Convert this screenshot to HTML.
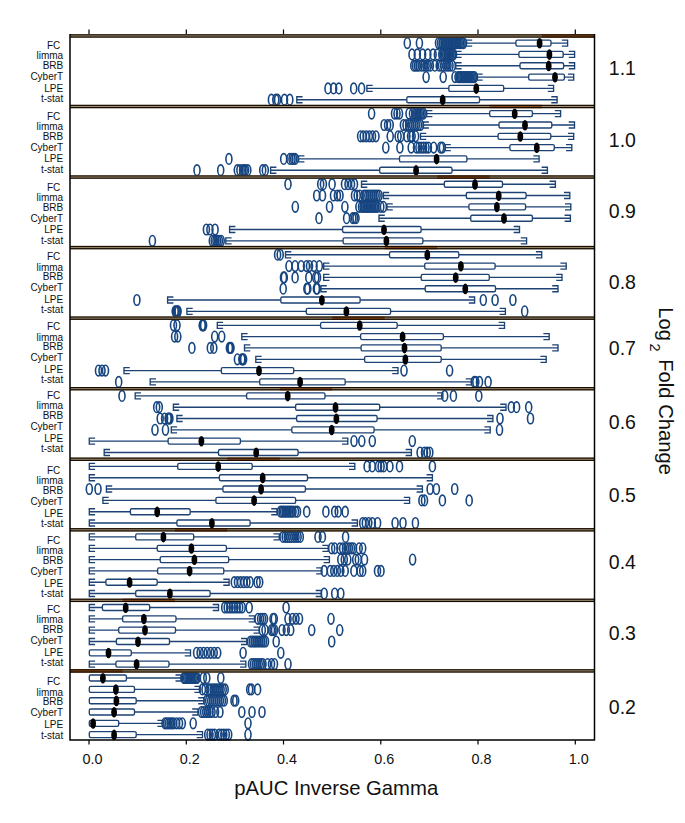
<!DOCTYPE html>
<html><head><meta charset="utf-8"><style>
html,body{margin:0;padding:0;background:#fff;}
svg{display:block;font-family:"Liberation Sans",sans-serif;}
text{fill:#111;}
</style></head><body>
<svg width="685" height="823" viewBox="0 0 685 823">
<rect x="0" y="0" width="685" height="823" fill="#fff"/>
<g stroke="#1d4274" stroke-width="1.35" fill="none"><path d="M466.4 43.1H515.9M551.0 43.1H567.6" /><path d="M472.2 40.1H466.4V46.1H472.2M561.8 40.1H567.6V46.1H561.8" fill="none"/><rect x="515.9" y="40.1" width="35.1" height="6.0" rx="1.5" fill="#fff"/></g>
<g stroke="#164580" stroke-width="1.6" fill="none"><ellipse cx="407.3" cy="43.1" rx="3.0" ry="5.3"/><ellipse cx="419.4" cy="43.1" rx="3.0" ry="5.3"/><ellipse cx="438.5" cy="43.1" rx="3.0" ry="5.3"/><ellipse cx="440.5" cy="43.1" rx="3.0" ry="5.3"/><ellipse cx="442.2" cy="43.1" rx="3.0" ry="5.3"/><ellipse cx="444.0" cy="43.1" rx="3.0" ry="5.3"/><ellipse cx="445.4" cy="43.1" rx="3.0" ry="5.3"/><ellipse cx="446.8" cy="43.1" rx="3.0" ry="5.3"/><ellipse cx="448.2" cy="43.1" rx="3.0" ry="5.3"/><ellipse cx="449.6" cy="43.1" rx="3.0" ry="5.3"/><ellipse cx="451.0" cy="43.1" rx="3.0" ry="5.3"/><ellipse cx="452.4" cy="43.1" rx="3.0" ry="5.3"/><ellipse cx="453.8" cy="43.1" rx="3.0" ry="5.3"/><ellipse cx="455.1" cy="43.1" rx="3.0" ry="5.3"/><ellipse cx="456.5" cy="43.1" rx="3.0" ry="5.3"/><ellipse cx="457.9" cy="43.1" rx="3.0" ry="5.3"/><ellipse cx="459.3" cy="43.1" rx="3.0" ry="5.3"/><ellipse cx="460.7" cy="43.1" rx="3.0" ry="5.3"/><ellipse cx="462.1" cy="43.1" rx="3.0" ry="5.3"/><ellipse cx="463.5" cy="43.1" rx="3.0" ry="5.3"/></g>
<ellipse cx="539.6" cy="43.3" rx="2.9" ry="5.3" fill="#000"/>
<g stroke="#1d4274" stroke-width="1.35" fill="none"><path d="M455.8 54.4H518.9M563.2 54.4H574.6" /><path d="M461.6 51.4H455.8V57.4H461.6M568.8 51.4H574.6V57.4H568.8" fill="none"/><rect x="518.9" y="51.4" width="44.3" height="6.0" rx="1.5" fill="#fff"/></g>
<g stroke="#164580" stroke-width="1.6" fill="none"><ellipse cx="412.0" cy="54.4" rx="3.0" ry="5.3"/><ellipse cx="417.3" cy="54.4" rx="3.0" ry="5.3"/><ellipse cx="422.6" cy="54.4" rx="3.0" ry="5.3"/><ellipse cx="427.8" cy="54.4" rx="3.0" ry="5.3"/><ellipse cx="433.1" cy="54.4" rx="3.0" ry="5.3"/><ellipse cx="437.4" cy="54.4" rx="3.0" ry="5.3"/><ellipse cx="441.8" cy="54.4" rx="3.0" ry="5.3"/><ellipse cx="443.1" cy="54.4" rx="3.0" ry="5.3"/><ellipse cx="444.4" cy="54.4" rx="3.0" ry="5.3"/><ellipse cx="445.7" cy="54.4" rx="3.0" ry="5.3"/><ellipse cx="447.0" cy="54.4" rx="3.0" ry="5.3"/><ellipse cx="448.3" cy="54.4" rx="3.0" ry="5.3"/><ellipse cx="449.6" cy="54.4" rx="3.0" ry="5.3"/><ellipse cx="450.9" cy="54.4" rx="3.0" ry="5.3"/><ellipse cx="452.2" cy="54.4" rx="3.0" ry="5.3"/><ellipse cx="453.5" cy="54.4" rx="3.0" ry="5.3"/></g>
<ellipse cx="549.4" cy="54.6" rx="2.9" ry="5.3" fill="#000"/>
<g stroke="#1d4274" stroke-width="1.35" fill="none"><path d="M455.8 65.7H520.0M563.6 65.7H574.6" /><path d="M461.6 62.7H455.8V68.7H461.6M568.8 62.7H574.6V68.7H568.8" fill="none"/><rect x="520.0" y="62.7" width="43.6" height="6.0" rx="1.5" fill="#fff"/></g>
<g stroke="#164580" stroke-width="1.6" fill="none"><ellipse cx="413.8" cy="65.7" rx="3.0" ry="5.3"/><ellipse cx="415.5" cy="65.7" rx="3.0" ry="5.3"/><ellipse cx="417.3" cy="65.7" rx="3.0" ry="5.3"/><ellipse cx="419.0" cy="65.7" rx="3.0" ry="5.3"/><ellipse cx="421.7" cy="65.7" rx="3.0" ry="5.3"/><ellipse cx="424.0" cy="65.7" rx="3.0" ry="5.3"/><ellipse cx="426.1" cy="65.7" rx="3.0" ry="5.3"/><ellipse cx="428.0" cy="65.7" rx="3.0" ry="5.3"/><ellipse cx="430.4" cy="65.7" rx="3.0" ry="5.3"/><ellipse cx="434.8" cy="65.7" rx="3.0" ry="5.3"/><ellipse cx="439.2" cy="65.7" rx="3.0" ry="5.3"/><ellipse cx="441.5" cy="65.7" rx="3.0" ry="5.3"/><ellipse cx="443.6" cy="65.7" rx="3.0" ry="5.3"/><ellipse cx="446.0" cy="65.7" rx="3.0" ry="5.3"/><ellipse cx="448.0" cy="65.7" rx="3.0" ry="5.3"/><ellipse cx="450.0" cy="65.7" rx="3.0" ry="5.3"/><ellipse cx="452.3" cy="65.7" rx="3.0" ry="5.3"/></g>
<ellipse cx="548.7" cy="65.9" rx="2.9" ry="5.3" fill="#000"/>
<g stroke="#1d4274" stroke-width="1.35" fill="none"><path d="M476.9 77.1H528.7M564.4 77.1H573.7" /><path d="M482.7 74.1H476.9V80.1H482.7M567.9 74.1H573.7V80.1H567.9" fill="none"/><rect x="528.7" y="74.1" width="35.7" height="6.0" rx="1.5" fill="#fff"/></g>
<g stroke="#164580" stroke-width="1.6" fill="none"><ellipse cx="426.1" cy="77.1" rx="3.0" ry="5.3"/><ellipse cx="443.2" cy="77.1" rx="3.0" ry="5.3"/><ellipse cx="455.0" cy="77.1" rx="3.0" ry="5.3"/><ellipse cx="458.0" cy="77.1" rx="3.0" ry="5.3"/><ellipse cx="459.3" cy="77.1" rx="3.0" ry="5.3"/><ellipse cx="460.5" cy="77.1" rx="3.0" ry="5.3"/><ellipse cx="461.8" cy="77.1" rx="3.0" ry="5.3"/><ellipse cx="463.1" cy="77.1" rx="3.0" ry="5.3"/><ellipse cx="464.3" cy="77.1" rx="3.0" ry="5.3"/><ellipse cx="465.6" cy="77.1" rx="3.0" ry="5.3"/><ellipse cx="466.9" cy="77.1" rx="3.0" ry="5.3"/><ellipse cx="468.2" cy="77.1" rx="3.0" ry="5.3"/><ellipse cx="469.4" cy="77.1" rx="3.0" ry="5.3"/><ellipse cx="470.7" cy="77.1" rx="3.0" ry="5.3"/><ellipse cx="472.0" cy="77.1" rx="3.0" ry="5.3"/><ellipse cx="473.2" cy="77.1" rx="3.0" ry="5.3"/><ellipse cx="474.5" cy="77.1" rx="3.0" ry="5.3"/></g>
<ellipse cx="555.0" cy="77.3" rx="2.9" ry="5.3" fill="#000"/>
<g stroke="#1d4274" stroke-width="1.35" fill="none"><path d="M366.9 88.4H448.8M503.7 88.4H553.6" /><path d="M372.7 85.4H366.9V91.4H372.7M547.8 85.4H553.6V91.4H547.8" fill="none"/><rect x="448.8" y="85.4" width="54.9" height="6.0" rx="1.5" fill="#fff"/></g>
<g stroke="#164580" stroke-width="1.6" fill="none"><ellipse cx="328.0" cy="88.4" rx="3.0" ry="5.3"/><ellipse cx="333.6" cy="88.4" rx="3.0" ry="5.3"/><ellipse cx="338.8" cy="88.4" rx="3.0" ry="5.3"/><ellipse cx="353.7" cy="88.4" rx="3.0" ry="5.3"/><ellipse cx="361.6" cy="88.4" rx="3.0" ry="5.3"/></g>
<ellipse cx="476.3" cy="88.6" rx="2.9" ry="5.3" fill="#000"/>
<g stroke="#1d4274" stroke-width="1.35" fill="none"><path d="M296.8 99.7H406.8M479.5 99.7H557.1" /><path d="M302.6 96.7H296.8V102.7H302.6M551.3 96.7H557.1V102.7H551.3" fill="none"/><rect x="406.8" y="96.7" width="72.7" height="6.0" rx="1.5" fill="#fff"/></g>
<g stroke="#164580" stroke-width="1.6" fill="none"><ellipse cx="271.4" cy="99.7" rx="3.0" ry="5.3"/><ellipse cx="275.8" cy="99.7" rx="3.0" ry="5.3"/><ellipse cx="277.5" cy="99.7" rx="3.0" ry="5.3"/><ellipse cx="284.5" cy="99.7" rx="3.0" ry="5.3"/><ellipse cx="289.8" cy="99.7" rx="3.0" ry="5.3"/></g>
<ellipse cx="442.7" cy="99.9" rx="2.9" ry="5.3" fill="#000"/>
<g stroke="#1d4274" stroke-width="1.35" fill="none"><path d="M426.6 113.6H489.7M532.4 113.6H560.6" /><path d="M432.4 110.6H426.6V116.6H432.4M554.8 110.6H560.6V116.6H554.8" fill="none"/><rect x="489.7" y="110.6" width="42.7" height="6.0" rx="1.5" fill="#fff"/></g>
<g stroke="#164580" stroke-width="1.6" fill="none"><ellipse cx="371.6" cy="113.6" rx="3.0" ry="5.3"/><ellipse cx="394.5" cy="113.6" rx="3.0" ry="5.3"/><ellipse cx="397.0" cy="113.6" rx="3.0" ry="5.3"/><ellipse cx="399.5" cy="113.6" rx="3.0" ry="5.3"/><ellipse cx="409.0" cy="113.6" rx="3.0" ry="5.3"/><ellipse cx="412.5" cy="113.6" rx="3.0" ry="5.3"/><ellipse cx="415.0" cy="113.6" rx="3.0" ry="5.3"/><ellipse cx="416.4" cy="113.6" rx="3.0" ry="5.3"/><ellipse cx="417.8" cy="113.6" rx="3.0" ry="5.3"/><ellipse cx="419.2" cy="113.6" rx="3.0" ry="5.3"/><ellipse cx="420.7" cy="113.6" rx="3.0" ry="5.3"/><ellipse cx="422.1" cy="113.6" rx="3.0" ry="5.3"/><ellipse cx="423.5" cy="113.6" rx="3.0" ry="5.3"/></g>
<ellipse cx="514.7" cy="113.8" rx="2.9" ry="5.3" fill="#000"/>
<g stroke="#1d4274" stroke-width="1.35" fill="none"><path d="M423.1 125.0H499.0M551.8 125.0H574.5" /><path d="M428.9 122.0H423.1V128.0H428.9M568.7 122.0H574.5V128.0H568.7" fill="none"/><rect x="499.0" y="122.0" width="52.8" height="6.0" rx="1.5" fill="#fff"/></g>
<g stroke="#164580" stroke-width="1.6" fill="none"><ellipse cx="384.1" cy="125.0" rx="3.0" ry="5.3"/><ellipse cx="387.6" cy="125.0" rx="3.0" ry="5.3"/><ellipse cx="390.2" cy="125.0" rx="3.0" ry="5.3"/><ellipse cx="403.4" cy="125.0" rx="3.0" ry="5.3"/><ellipse cx="406.0" cy="125.0" rx="3.0" ry="5.3"/><ellipse cx="408.6" cy="125.0" rx="3.0" ry="5.3"/><ellipse cx="410.6" cy="125.0" rx="3.0" ry="5.3"/><ellipse cx="412.6" cy="125.0" rx="3.0" ry="5.3"/><ellipse cx="414.6" cy="125.0" rx="3.0" ry="5.3"/><ellipse cx="416.5" cy="125.0" rx="3.0" ry="5.3"/><ellipse cx="418.5" cy="125.0" rx="3.0" ry="5.3"/><ellipse cx="420.5" cy="125.0" rx="3.0" ry="5.3"/></g>
<ellipse cx="525.0" cy="125.2" rx="2.9" ry="5.3" fill="#000"/>
<g stroke="#1d4274" stroke-width="1.35" fill="none"><path d="M420.5 136.3H498.1M550.8 136.3H573.7" /><path d="M426.3 133.3H420.5V139.3H426.3M567.9 133.3H573.7V139.3H567.9" fill="none"/><rect x="498.1" y="133.3" width="52.7" height="6.0" rx="1.5" fill="#fff"/></g>
<g stroke="#164580" stroke-width="1.6" fill="none"><ellipse cx="360.6" cy="136.3" rx="3.0" ry="5.3"/><ellipse cx="363.2" cy="136.3" rx="3.0" ry="5.3"/><ellipse cx="366.2" cy="136.3" rx="3.0" ry="5.3"/><ellipse cx="369.3" cy="136.3" rx="3.0" ry="5.3"/><ellipse cx="372.5" cy="136.3" rx="3.0" ry="5.3"/><ellipse cx="376.0" cy="136.3" rx="3.0" ry="5.3"/><ellipse cx="390.2" cy="136.3" rx="3.0" ry="5.3"/><ellipse cx="398.1" cy="136.3" rx="3.0" ry="5.3"/><ellipse cx="400.7" cy="136.3" rx="3.0" ry="5.3"/><ellipse cx="406.9" cy="136.3" rx="3.0" ry="5.3"/><ellipse cx="410.5" cy="136.3" rx="3.0" ry="5.3"/><ellipse cx="412.1" cy="136.3" rx="3.0" ry="5.3"/><ellipse cx="415.6" cy="136.3" rx="3.0" ry="5.3"/></g>
<ellipse cx="520.3" cy="136.5" rx="2.9" ry="5.3" fill="#000"/>
<g stroke="#1d4274" stroke-width="1.35" fill="none"><path d="M445.0 147.6H509.9M554.3 147.6H571.8" /><path d="M450.8 144.6H445.0V150.6H450.8M566.0 144.6H571.8V150.6H566.0" fill="none"/><rect x="509.9" y="144.6" width="44.4" height="6.0" rx="1.5" fill="#fff"/></g>
<g stroke="#164580" stroke-width="1.6" fill="none"><ellipse cx="385.8" cy="147.6" rx="3.0" ry="5.3"/><ellipse cx="399.9" cy="147.6" rx="3.0" ry="5.3"/><ellipse cx="411.2" cy="147.6" rx="3.0" ry="5.3"/><ellipse cx="416.5" cy="147.6" rx="3.0" ry="5.3"/><ellipse cx="418.9" cy="147.6" rx="3.0" ry="5.3"/><ellipse cx="421.3" cy="147.6" rx="3.0" ry="5.3"/><ellipse cx="423.6" cy="147.6" rx="3.0" ry="5.3"/><ellipse cx="426.0" cy="147.6" rx="3.0" ry="5.3"/><ellipse cx="428.4" cy="147.6" rx="3.0" ry="5.3"/><ellipse cx="433.7" cy="147.6" rx="3.0" ry="5.3"/><ellipse cx="440.7" cy="147.6" rx="3.0" ry="5.3"/><ellipse cx="442.4" cy="147.6" rx="3.0" ry="5.3"/></g>
<ellipse cx="536.8" cy="147.8" rx="2.9" ry="5.3" fill="#000"/>
<g stroke="#1d4274" stroke-width="1.35" fill="none"><path d="M298.6 158.9H399.5M466.9 158.9H539.1" /><path d="M304.4 155.9H298.6V161.9H304.4M533.3 155.9H539.1V161.9H533.3" fill="none"/><rect x="399.5" y="155.9" width="67.4" height="6.0" rx="1.5" fill="#fff"/></g>
<g stroke="#164580" stroke-width="1.6" fill="none"><ellipse cx="228.9" cy="158.9" rx="3.0" ry="5.3"/><ellipse cx="283.7" cy="158.9" rx="3.0" ry="5.3"/><ellipse cx="289.9" cy="158.9" rx="3.0" ry="5.3"/><ellipse cx="292.0" cy="158.9" rx="3.0" ry="5.3"/><ellipse cx="293.6" cy="158.9" rx="3.0" ry="5.3"/><ellipse cx="295.2" cy="158.9" rx="3.0" ry="5.3"/></g>
<ellipse cx="436.6" cy="159.1" rx="2.9" ry="5.3" fill="#000"/>
<g stroke="#1d4274" stroke-width="1.35" fill="none"><path d="M270.6 170.2H379.7M452.0 170.2H547.4" /><path d="M276.4 167.2H270.6V173.2H276.4M541.6 167.2H547.4V173.2H541.6" fill="none"/><rect x="379.7" y="167.2" width="72.3" height="6.0" rx="1.5" fill="#fff"/></g>
<g stroke="#164580" stroke-width="1.6" fill="none"><ellipse cx="197.0" cy="170.2" rx="3.0" ry="5.3"/><ellipse cx="220.7" cy="170.2" rx="3.0" ry="5.3"/><ellipse cx="237.3" cy="170.2" rx="3.0" ry="5.3"/><ellipse cx="239.9" cy="170.2" rx="3.0" ry="5.3"/><ellipse cx="242.6" cy="170.2" rx="3.0" ry="5.3"/><ellipse cx="244.2" cy="170.2" rx="3.0" ry="5.3"/><ellipse cx="245.6" cy="170.2" rx="3.0" ry="5.3"/><ellipse cx="247.8" cy="170.2" rx="3.0" ry="5.3"/><ellipse cx="262.7" cy="170.2" rx="3.0" ry="5.3"/><ellipse cx="265.3" cy="170.2" rx="3.0" ry="5.3"/></g>
<ellipse cx="416.1" cy="170.4" rx="2.9" ry="5.3" fill="#000"/>
<g stroke="#1d4274" stroke-width="1.35" fill="none"><path d="M361.5 184.2H444.3M502.5 184.2H555.4" /><path d="M367.3 181.2H361.5V187.2H367.3M549.6 181.2H555.4V187.2H549.6" fill="none"/><rect x="444.3" y="181.2" width="58.2" height="6.0" rx="1.5" fill="#fff"/></g>
<g stroke="#164580" stroke-width="1.6" fill="none"><ellipse cx="288.0" cy="184.2" rx="3.0" ry="5.3"/><ellipse cx="320.7" cy="184.2" rx="3.0" ry="5.3"/><ellipse cx="323.4" cy="184.2" rx="3.0" ry="5.3"/><ellipse cx="332.1" cy="184.2" rx="3.0" ry="5.3"/><ellipse cx="344.5" cy="184.2" rx="3.0" ry="5.3"/><ellipse cx="348.0" cy="184.2" rx="3.0" ry="5.3"/><ellipse cx="351.5" cy="184.2" rx="3.0" ry="5.3"/><ellipse cx="354.5" cy="184.2" rx="3.0" ry="5.3"/></g>
<ellipse cx="475.0" cy="184.4" rx="2.9" ry="5.3" fill="#000"/>
<g stroke="#1d4274" stroke-width="1.35" fill="none"><path d="M383.4 195.5H466.3M526.1 195.5H569.8" /><path d="M389.2 192.5H383.4V198.5H389.2M564.0 192.5H569.8V198.5H564.0" fill="none"/><rect x="466.3" y="192.5" width="59.8" height="6.0" rx="1.5" fill="#fff"/></g>
<g stroke="#164580" stroke-width="1.6" fill="none"><ellipse cx="316.7" cy="195.5" rx="3.0" ry="5.3"/><ellipse cx="322.5" cy="195.5" rx="3.0" ry="5.3"/><ellipse cx="333.5" cy="195.5" rx="3.0" ry="5.3"/><ellipse cx="337.4" cy="195.5" rx="3.0" ry="5.3"/><ellipse cx="340.0" cy="195.5" rx="3.0" ry="5.3"/><ellipse cx="354.5" cy="195.5" rx="3.0" ry="5.3"/><ellipse cx="357.2" cy="195.5" rx="3.0" ry="5.3"/><ellipse cx="359.8" cy="195.5" rx="3.0" ry="5.3"/><ellipse cx="364.0" cy="195.5" rx="3.0" ry="5.3"/><ellipse cx="365.9" cy="195.5" rx="3.0" ry="5.3"/><ellipse cx="367.8" cy="195.5" rx="3.0" ry="5.3"/><ellipse cx="369.6" cy="195.5" rx="3.0" ry="5.3"/><ellipse cx="371.5" cy="195.5" rx="3.0" ry="5.3"/><ellipse cx="373.4" cy="195.5" rx="3.0" ry="5.3"/><ellipse cx="375.2" cy="195.5" rx="3.0" ry="5.3"/><ellipse cx="377.1" cy="195.5" rx="3.0" ry="5.3"/><ellipse cx="379.0" cy="195.5" rx="3.0" ry="5.3"/></g>
<ellipse cx="498.7" cy="195.7" rx="2.9" ry="5.3" fill="#000"/>
<g stroke="#1d4274" stroke-width="1.35" fill="none"><path d="M387.0 206.8H468.9M525.6 206.8H570.8" /><path d="M392.8 203.8H387.0V209.8H392.8M565.0 203.8H570.8V209.8H565.0" fill="none"/><rect x="468.9" y="203.8" width="56.7" height="6.0" rx="1.5" fill="#fff"/></g>
<g stroke="#164580" stroke-width="1.6" fill="none"><ellipse cx="295.3" cy="206.8" rx="3.0" ry="5.3"/><ellipse cx="329.5" cy="206.8" rx="3.0" ry="5.3"/><ellipse cx="344.9" cy="206.8" rx="3.0" ry="5.3"/><ellipse cx="358.9" cy="206.8" rx="3.0" ry="5.3"/><ellipse cx="361.5" cy="206.8" rx="3.0" ry="5.3"/><ellipse cx="363.1" cy="206.8" rx="3.0" ry="5.3"/><ellipse cx="364.7" cy="206.8" rx="3.0" ry="5.3"/><ellipse cx="366.2" cy="206.8" rx="3.0" ry="5.3"/><ellipse cx="367.8" cy="206.8" rx="3.0" ry="5.3"/><ellipse cx="369.4" cy="206.8" rx="3.0" ry="5.3"/><ellipse cx="371.0" cy="206.8" rx="3.0" ry="5.3"/><ellipse cx="372.6" cy="206.8" rx="3.0" ry="5.3"/><ellipse cx="374.1" cy="206.8" rx="3.0" ry="5.3"/><ellipse cx="375.7" cy="206.8" rx="3.0" ry="5.3"/><ellipse cx="377.3" cy="206.8" rx="3.0" ry="5.3"/><ellipse cx="380.8" cy="206.8" rx="3.0" ry="5.3"/><ellipse cx="383.4" cy="206.8" rx="3.0" ry="5.3"/></g>
<ellipse cx="496.9" cy="207.0" rx="2.9" ry="5.3" fill="#000"/>
<g stroke="#1d4274" stroke-width="1.35" fill="none"><path d="M379.0 218.2H470.7M532.4 218.2H570.4" /><path d="M384.8 215.2H379.0V221.2H384.8M564.6 215.2H570.4V221.2H564.6" fill="none"/><rect x="470.7" y="215.2" width="61.7" height="6.0" rx="1.5" fill="#fff"/></g>
<g stroke="#164580" stroke-width="1.6" fill="none"><ellipse cx="319.0" cy="218.2" rx="3.0" ry="5.3"/><ellipse cx="346.6" cy="218.2" rx="3.0" ry="5.3"/><ellipse cx="352.8" cy="218.2" rx="3.0" ry="5.3"/><ellipse cx="354.5" cy="218.2" rx="3.0" ry="5.3"/><ellipse cx="356.0" cy="218.2" rx="3.0" ry="5.3"/></g>
<ellipse cx="504.0" cy="218.4" rx="2.9" ry="5.3" fill="#000"/>
<g stroke="#1d4274" stroke-width="1.35" fill="none"><path d="M229.6 229.5H342.6M421.1 229.5H519.5" /><path d="M235.4 226.5H229.6V232.5H235.4M513.7 226.5H519.5V232.5H513.7" fill="none"/><rect x="342.6" y="226.5" width="78.5" height="6.0" rx="1.5" fill="#fff"/></g>
<g stroke="#164580" stroke-width="1.6" fill="none"><ellipse cx="206.4" cy="229.5" rx="3.0" ry="5.3"/><ellipse cx="209.9" cy="229.5" rx="3.0" ry="5.3"/><ellipse cx="215.1" cy="229.5" rx="3.0" ry="5.3"/></g>
<ellipse cx="384.0" cy="229.7" rx="2.9" ry="5.3" fill="#000"/>
<g stroke="#1d4274" stroke-width="1.35" fill="none"><path d="M225.8 240.8H343.1M422.9 240.8H526.6" /><path d="M231.6 237.8H225.8V243.8H231.6M520.8 237.8H526.6V243.8H520.8" fill="none"/><rect x="343.1" y="237.8" width="79.8" height="6.0" rx="1.5" fill="#fff"/></g>
<g stroke="#164580" stroke-width="1.6" fill="none"><ellipse cx="152.4" cy="240.8" rx="3.0" ry="5.3"/><ellipse cx="212.3" cy="240.8" rx="3.0" ry="5.3"/><ellipse cx="214.3" cy="240.8" rx="3.0" ry="5.3"/><ellipse cx="216.0" cy="240.8" rx="3.0" ry="5.3"/><ellipse cx="217.7" cy="240.8" rx="3.0" ry="5.3"/><ellipse cx="219.4" cy="240.8" rx="3.0" ry="5.3"/><ellipse cx="221.2" cy="240.8" rx="3.0" ry="5.3"/></g>
<ellipse cx="386.4" cy="241.0" rx="2.9" ry="5.3" fill="#000"/>
<g stroke="#1d4274" stroke-width="1.35" fill="none"><path d="M285.5 254.7H389.5M458.8 254.7H541.7" /><path d="M291.3 251.7H285.5V257.8H291.3M535.9 251.7H541.7V257.8H535.9" fill="none"/><rect x="389.5" y="251.7" width="69.3" height="6.0" rx="1.5" fill="#fff"/></g>
<g stroke="#164580" stroke-width="1.6" fill="none"><ellipse cx="277.6" cy="254.7" rx="3.0" ry="5.3"/><ellipse cx="280.2" cy="254.7" rx="3.0" ry="5.3"/></g>
<ellipse cx="427.3" cy="254.9" rx="2.9" ry="5.3" fill="#000"/>
<g stroke="#1d4274" stroke-width="1.35" fill="none"><path d="M323.7 266.1H424.7M495.1 266.1H566.2" /><path d="M329.5 263.1H323.7V269.1H329.5M560.4 263.1H566.2V269.1H560.4" fill="none"/><rect x="424.7" y="263.1" width="70.4" height="6.0" rx="1.5" fill="#fff"/></g>
<g stroke="#164580" stroke-width="1.6" fill="none"><ellipse cx="289.0" cy="266.1" rx="3.0" ry="5.3"/><ellipse cx="295.1" cy="266.1" rx="3.0" ry="5.3"/><ellipse cx="301.2" cy="266.1" rx="3.0" ry="5.3"/><ellipse cx="306.5" cy="266.1" rx="3.0" ry="5.3"/><ellipse cx="309.5" cy="266.1" rx="3.0" ry="5.3"/><ellipse cx="314.0" cy="266.1" rx="3.0" ry="5.3"/><ellipse cx="319.3" cy="266.1" rx="3.0" ry="5.3"/></g>
<ellipse cx="460.9" cy="266.3" rx="2.9" ry="5.3" fill="#000"/>
<g stroke="#1d4274" stroke-width="1.35" fill="none"><path d="M323.7 277.4H421.2M489.3 277.4H562.0" /><path d="M329.5 274.4H323.7V280.4H329.5M556.2 274.4H562.0V280.4H556.2" fill="none"/><rect x="421.2" y="274.4" width="68.1" height="6.0" rx="1.5" fill="#fff"/></g>
<g stroke="#164580" stroke-width="1.6" fill="none"><ellipse cx="283.5" cy="277.4" rx="3.0" ry="5.3"/><ellipse cx="284.3" cy="277.4" rx="3.0" ry="5.3"/><ellipse cx="295.1" cy="277.4" rx="3.0" ry="5.3"/><ellipse cx="308.8" cy="277.4" rx="3.0" ry="5.3"/><ellipse cx="315.8" cy="277.4" rx="3.0" ry="5.3"/><ellipse cx="317.5" cy="277.4" rx="3.0" ry="5.3"/></g>
<ellipse cx="455.7" cy="277.6" rx="2.9" ry="5.3" fill="#000"/>
<g stroke="#1d4274" stroke-width="1.35" fill="none"><path d="M321.0 288.7H425.2M495.5 288.7H558.0" /><path d="M326.8 285.7H321.0V291.7H326.8M552.2 285.7H558.0V291.7H552.2" fill="none"/><rect x="425.2" y="285.7" width="70.3" height="6.0" rx="1.5" fill="#fff"/></g>
<g stroke="#164580" stroke-width="1.6" fill="none"><ellipse cx="283.2" cy="288.7" rx="3.0" ry="5.3"/><ellipse cx="306.9" cy="288.7" rx="3.0" ry="5.3"/><ellipse cx="307.8" cy="288.7" rx="3.0" ry="5.3"/><ellipse cx="316.4" cy="288.7" rx="3.0" ry="5.3"/><ellipse cx="317.2" cy="288.7" rx="3.0" ry="5.3"/></g>
<ellipse cx="465.3" cy="288.9" rx="2.9" ry="5.3" fill="#000"/>
<g stroke="#1d4274" stroke-width="1.35" fill="none"><path d="M167.6 300.0H280.8M360.1 300.0H474.6" /><path d="M173.4 297.0H167.6V303.0H173.4M468.8 297.0H474.6V303.0H468.8" fill="none"/><rect x="280.8" y="297.0" width="79.3" height="6.0" rx="1.5" fill="#fff"/></g>
<g stroke="#164580" stroke-width="1.6" fill="none"><ellipse cx="136.9" cy="300.0" rx="3.0" ry="5.3"/><ellipse cx="483.3" cy="300.0" rx="3.0" ry="5.3"/><ellipse cx="495.1" cy="300.0" rx="3.0" ry="5.3"/><ellipse cx="512.9" cy="300.0" rx="3.0" ry="5.3"/></g>
<ellipse cx="321.9" cy="300.2" rx="2.9" ry="5.3" fill="#000"/>
<g stroke="#1d4274" stroke-width="1.35" fill="none"><path d="M186.9 311.3H306.3M390.6 311.3H505.4" /><path d="M192.7 308.3H186.9V314.3H192.7M499.6 308.3H505.4V314.3H499.6" fill="none"/><rect x="306.3" y="308.3" width="84.3" height="6.0" rx="1.5" fill="#fff"/></g>
<g stroke="#164580" stroke-width="1.6" fill="none"><ellipse cx="175.2" cy="311.3" rx="3.0" ry="5.3"/><ellipse cx="176.2" cy="311.3" rx="3.0" ry="5.3"/><ellipse cx="177.2" cy="311.3" rx="3.0" ry="5.3"/><ellipse cx="178.1" cy="311.3" rx="3.0" ry="5.3"/><ellipse cx="524.7" cy="311.3" rx="3.0" ry="5.3"/></g>
<ellipse cx="346.4" cy="311.5" rx="2.9" ry="5.3" fill="#000"/>
<g stroke="#1d4274" stroke-width="1.35" fill="none"><path d="M217.3 325.3H320.6M397.2 325.3H504.5" /><path d="M223.1 322.3H217.3V328.3H223.1M498.7 322.3H504.5V328.3H498.7" fill="none"/><rect x="320.6" y="322.3" width="76.6" height="6.0" rx="1.5" fill="#fff"/></g>
<g stroke="#164580" stroke-width="1.6" fill="none"><ellipse cx="173.5" cy="325.3" rx="3.0" ry="5.3"/><ellipse cx="177.0" cy="325.3" rx="3.0" ry="5.3"/><ellipse cx="202.2" cy="325.3" rx="3.0" ry="5.3"/><ellipse cx="202.9" cy="325.3" rx="3.0" ry="5.3"/><ellipse cx="203.6" cy="325.3" rx="3.0" ry="5.3"/></g>
<ellipse cx="359.7" cy="325.5" rx="2.9" ry="5.3" fill="#000"/>
<g stroke="#1d4274" stroke-width="1.35" fill="none"><path d="M241.8 336.6H360.6M443.4 336.6H549.2" /><path d="M247.6 333.6H241.8V339.6H247.6M543.4 333.6H549.2V339.6H543.4" fill="none"/><rect x="360.6" y="333.6" width="82.8" height="6.0" rx="1.5" fill="#fff"/></g>
<g stroke="#164580" stroke-width="1.6" fill="none"><ellipse cx="174.6" cy="336.6" rx="3.0" ry="5.3"/><ellipse cx="177.8" cy="336.6" rx="3.0" ry="5.3"/><ellipse cx="214.7" cy="336.6" rx="3.0" ry="5.3"/><ellipse cx="221.7" cy="336.6" rx="3.0" ry="5.3"/></g>
<ellipse cx="402.6" cy="336.8" rx="2.9" ry="5.3" fill="#000"/>
<g stroke="#1d4274" stroke-width="1.35" fill="none"><path d="M244.5 347.9H361.1M441.2 347.9H558.0" /><path d="M250.3 344.9H244.5V350.9H250.3M552.2 344.9H558.0V350.9H552.2" fill="none"/><rect x="361.1" y="344.9" width="80.1" height="6.0" rx="1.5" fill="#fff"/></g>
<g stroke="#164580" stroke-width="1.6" fill="none"><ellipse cx="191.9" cy="347.9" rx="3.0" ry="5.3"/><ellipse cx="210.3" cy="347.9" rx="3.0" ry="5.3"/><ellipse cx="213.8" cy="347.9" rx="3.0" ry="5.3"/><ellipse cx="229.4" cy="347.9" rx="3.0" ry="5.3"/><ellipse cx="230.2" cy="347.9" rx="3.0" ry="5.3"/><ellipse cx="231.0" cy="347.9" rx="3.0" ry="5.3"/></g>
<ellipse cx="404.5" cy="348.1" rx="2.9" ry="5.3" fill="#000"/>
<g stroke="#1d4274" stroke-width="1.35" fill="none"><path d="M255.8 359.3H364.6M441.2 359.3H546.2" /><path d="M261.6 356.3H255.8V362.3H261.6M540.4 356.3H546.2V362.3H540.4" fill="none"/><rect x="364.6" y="356.3" width="76.6" height="6.0" rx="1.5" fill="#fff"/></g>
<g stroke="#164580" stroke-width="1.6" fill="none"><ellipse cx="237.4" cy="359.3" rx="3.0" ry="5.3"/><ellipse cx="241.8" cy="359.3" rx="3.0" ry="5.3"/><ellipse cx="242.7" cy="359.3" rx="3.0" ry="5.3"/><ellipse cx="243.6" cy="359.3" rx="3.0" ry="5.3"/></g>
<ellipse cx="405.4" cy="359.5" rx="2.9" ry="5.3" fill="#000"/>
<g stroke="#1d4274" stroke-width="1.35" fill="none"><path d="M124.0 370.6H221.3M293.7 370.6H398.0" /><path d="M129.8 367.6H124.0V373.6H129.8M392.2 367.6H398.0V373.6H392.2" fill="none"/><rect x="221.3" y="367.6" width="72.4" height="6.0" rx="1.5" fill="#fff"/></g>
<g stroke="#164580" stroke-width="1.6" fill="none"><ellipse cx="98.5" cy="370.6" rx="3.0" ry="5.3"/><ellipse cx="102.0" cy="370.6" rx="3.0" ry="5.3"/><ellipse cx="105.5" cy="370.6" rx="3.0" ry="5.3"/><ellipse cx="404.0" cy="370.6" rx="3.0" ry="5.3"/><ellipse cx="449.6" cy="370.6" rx="3.0" ry="5.3"/></g>
<ellipse cx="259.0" cy="370.8" rx="2.9" ry="5.3" fill="#000"/>
<g stroke="#1d4274" stroke-width="1.35" fill="none"><path d="M150.2 381.9H259.7M345.2 381.9H471.5" /><path d="M156.0 378.9H150.2V384.9H156.0M465.7 378.9H471.5V384.9H465.7" fill="none"/><rect x="259.7" y="378.9" width="85.5" height="6.0" rx="1.5" fill="#fff"/></g>
<g stroke="#164580" stroke-width="1.6" fill="none"><ellipse cx="118.7" cy="381.9" rx="3.0" ry="5.3"/><ellipse cx="474.3" cy="381.9" rx="3.0" ry="5.3"/><ellipse cx="475.8" cy="381.9" rx="3.0" ry="5.3"/><ellipse cx="479.5" cy="381.9" rx="3.0" ry="5.3"/><ellipse cx="488.1" cy="381.9" rx="3.0" ry="5.3"/></g>
<ellipse cx="300.1" cy="382.1" rx="2.9" ry="5.3" fill="#000"/>
<g stroke="#1d4274" stroke-width="1.35" fill="none"><path d="M135.2 395.9H246.6M325.0 395.9H442.9" /><path d="M141.0 392.9H135.2V398.9H141.0M437.1 392.9H442.9V398.9H437.1" fill="none"/><rect x="246.6" y="392.9" width="78.4" height="6.0" rx="1.5" fill="#fff"/></g>
<g stroke="#164580" stroke-width="1.6" fill="none"><ellipse cx="122.0" cy="395.9" rx="3.0" ry="5.3"/><ellipse cx="444.7" cy="395.9" rx="3.0" ry="5.3"/><ellipse cx="453.4" cy="395.9" rx="3.0" ry="5.3"/><ellipse cx="478.8" cy="395.9" rx="3.0" ry="5.3"/></g>
<ellipse cx="287.7" cy="396.1" rx="2.9" ry="5.3" fill="#000"/>
<g stroke="#1d4274" stroke-width="1.35" fill="none"><path d="M173.4 407.2H295.6M379.7 407.2H506.0" /><path d="M179.2 404.2H173.4V410.2H179.2M500.2 404.2H506.0V410.2H500.2" fill="none"/><rect x="295.6" y="404.2" width="84.1" height="6.0" rx="1.5" fill="#fff"/></g>
<g stroke="#164580" stroke-width="1.6" fill="none"><ellipse cx="156.7" cy="407.2" rx="3.0" ry="5.3"/><ellipse cx="159.3" cy="407.2" rx="3.0" ry="5.3"/><ellipse cx="511.3" cy="407.2" rx="3.0" ry="5.3"/><ellipse cx="516.6" cy="407.2" rx="3.0" ry="5.3"/><ellipse cx="528.7" cy="407.2" rx="3.0" ry="5.3"/></g>
<ellipse cx="335.5" cy="407.4" rx="2.9" ry="5.3" fill="#000"/>
<g stroke="#1d4274" stroke-width="1.35" fill="none"><path d="M176.9 418.5H296.6M377.1 418.5H492.9" /><path d="M182.7 415.5H176.9V421.5H182.7M487.1 415.5H492.9V421.5H487.1" fill="none"/><rect x="296.6" y="415.5" width="80.5" height="6.0" rx="1.5" fill="#fff"/></g>
<g stroke="#164580" stroke-width="1.6" fill="none"><ellipse cx="160.2" cy="418.5" rx="3.0" ry="5.3"/><ellipse cx="164.6" cy="418.5" rx="3.0" ry="5.3"/><ellipse cx="168.1" cy="418.5" rx="3.0" ry="5.3"/><ellipse cx="169.0" cy="418.5" rx="3.0" ry="5.3"/><ellipse cx="169.9" cy="418.5" rx="3.0" ry="5.3"/><ellipse cx="500.0" cy="418.5" rx="3.0" ry="5.3"/><ellipse cx="530.5" cy="418.5" rx="3.0" ry="5.3"/></g>
<ellipse cx="336.4" cy="418.7" rx="2.9" ry="5.3" fill="#000"/>
<g stroke="#1d4274" stroke-width="1.35" fill="none"><path d="M171.3 429.8H291.8M374.1 429.8H490.2" /><path d="M177.1 426.8H171.3V432.8H177.1M484.4 426.8H490.2V432.8H484.4" fill="none"/><rect x="291.8" y="426.8" width="82.3" height="6.0" rx="1.5" fill="#fff"/></g>
<g stroke="#164580" stroke-width="1.6" fill="none"><ellipse cx="155.0" cy="429.8" rx="3.0" ry="5.3"/><ellipse cx="165.5" cy="429.8" rx="3.0" ry="5.3"/><ellipse cx="499.5" cy="429.8" rx="3.0" ry="5.3"/></g>
<ellipse cx="331.7" cy="430.0" rx="2.9" ry="5.3" fill="#000"/>
<g stroke="#1d4274" stroke-width="1.35" fill="none"><path d="M89.3 441.1H168.1M240.4 441.1H347.8" /><path d="M95.1 438.1H89.3V444.1H95.1M342.0 438.1H347.8V444.1H342.0" fill="none"/><rect x="168.1" y="438.1" width="72.3" height="6.0" rx="1.5" fill="#fff"/></g>
<g stroke="#164580" stroke-width="1.6" fill="none"><ellipse cx="354.0" cy="441.1" rx="3.0" ry="5.3"/><ellipse cx="361.8" cy="441.1" rx="3.0" ry="5.3"/><ellipse cx="372.3" cy="441.1" rx="3.0" ry="5.3"/><ellipse cx="412.3" cy="441.1" rx="3.0" ry="5.3"/></g>
<ellipse cx="201.4" cy="441.3" rx="2.9" ry="5.3" fill="#000"/>
<g stroke="#1d4274" stroke-width="1.35" fill="none"><path d="M104.2 452.5H218.5M298.1 452.5H411.4" /><path d="M110.0 449.5H104.2V455.5H110.0M405.6 449.5H411.4V455.5H405.6" fill="none"/><rect x="218.5" y="449.5" width="79.6" height="6.0" rx="1.5" fill="#fff"/></g>
<g stroke="#164580" stroke-width="1.6" fill="none"><ellipse cx="420.1" cy="452.5" rx="3.0" ry="5.3"/><ellipse cx="424.5" cy="452.5" rx="3.0" ry="5.3"/><ellipse cx="427.2" cy="452.5" rx="3.0" ry="5.3"/><ellipse cx="429.8" cy="452.5" rx="3.0" ry="5.3"/></g>
<ellipse cx="256.2" cy="452.7" rx="2.9" ry="5.3" fill="#000"/>
<g stroke="#1d4274" stroke-width="1.35" fill="none"><path d="M89.3 466.4H177.7M252.2 466.4H354.8" /><path d="M95.1 463.4H89.3V469.4H95.1M349.0 463.4H354.8V469.4H349.0" fill="none"/><rect x="177.7" y="463.4" width="74.5" height="6.0" rx="1.5" fill="#fff"/></g>
<g stroke="#164580" stroke-width="1.6" fill="none"><ellipse cx="367.1" cy="466.4" rx="3.0" ry="5.3"/><ellipse cx="372.3" cy="466.4" rx="3.0" ry="5.3"/><ellipse cx="378.5" cy="466.4" rx="3.0" ry="5.3"/><ellipse cx="381.1" cy="466.4" rx="3.0" ry="5.3"/><ellipse cx="383.7" cy="466.4" rx="3.0" ry="5.3"/><ellipse cx="389.9" cy="466.4" rx="3.0" ry="5.3"/><ellipse cx="399.5" cy="466.4" rx="3.0" ry="5.3"/><ellipse cx="432.4" cy="466.4" rx="3.0" ry="5.3"/></g>
<ellipse cx="218.2" cy="466.6" rx="2.9" ry="5.3" fill="#000"/>
<g stroke="#1d4274" stroke-width="1.35" fill="none"><path d="M89.3 477.7H219.4M307.5 477.7H432.4" /><path d="M95.1 474.7H89.3V480.7H95.1M426.6 474.7H432.4V480.7H426.6" fill="none"/><rect x="219.4" y="474.7" width="88.1" height="6.0" rx="1.5" fill="#fff"/></g>
<ellipse cx="262.7" cy="477.9" rx="2.9" ry="5.3" fill="#000"/>
<g stroke="#1d4274" stroke-width="1.35" fill="none"><path d="M106.4 489.0H222.9M305.4 489.0H422.4" /><path d="M112.2 486.0H106.4V492.0H112.2M416.6 486.0H422.4V492.0H416.6" fill="none"/><rect x="222.9" y="486.0" width="82.5" height="6.0" rx="1.5" fill="#fff"/></g>
<g stroke="#164580" stroke-width="1.6" fill="none"><ellipse cx="89.3" cy="489.0" rx="3.0" ry="5.3"/><ellipse cx="98.0" cy="489.0" rx="3.0" ry="5.3"/><ellipse cx="430.1" cy="489.0" rx="3.0" ry="5.3"/><ellipse cx="436.4" cy="489.0" rx="3.0" ry="5.3"/><ellipse cx="454.7" cy="489.0" rx="3.0" ry="5.3"/></g>
<ellipse cx="261.1" cy="489.2" rx="2.9" ry="5.3" fill="#000"/>
<g stroke="#1d4274" stroke-width="1.35" fill="none"><path d="M102.9 500.4H215.9M295.6 500.4H409.6" /><path d="M108.7 497.4H102.9V503.4H108.7M403.8 497.4H409.6V503.4H403.8" fill="none"/><rect x="215.9" y="497.4" width="79.7" height="6.0" rx="1.5" fill="#fff"/></g>
<g stroke="#164580" stroke-width="1.6" fill="none"><ellipse cx="421.9" cy="500.4" rx="3.0" ry="5.3"/><ellipse cx="424.5" cy="500.4" rx="3.0" ry="5.3"/><ellipse cx="442.4" cy="500.4" rx="3.0" ry="5.3"/><ellipse cx="469.2" cy="500.4" rx="3.0" ry="5.3"/></g>
<ellipse cx="254.1" cy="500.6" rx="2.9" ry="5.3" fill="#000"/>
<g stroke="#1d4274" stroke-width="1.35" fill="none"><path d="M89.3 511.7H130.4M190.2 511.7H277.0" /><path d="M95.1 508.7H89.3V514.7H95.1M271.2 508.7H277.0V514.7H271.2" fill="none"/><rect x="130.4" y="508.7" width="59.8" height="6.0" rx="1.5" fill="#fff"/></g>
<g stroke="#164580" stroke-width="1.6" fill="none"><ellipse cx="280.5" cy="511.7" rx="3.0" ry="5.3"/><ellipse cx="282.1" cy="511.7" rx="3.0" ry="5.3"/><ellipse cx="283.6" cy="511.7" rx="3.0" ry="5.3"/><ellipse cx="285.2" cy="511.7" rx="3.0" ry="5.3"/><ellipse cx="286.8" cy="511.7" rx="3.0" ry="5.3"/><ellipse cx="288.3" cy="511.7" rx="3.0" ry="5.3"/><ellipse cx="289.9" cy="511.7" rx="3.0" ry="5.3"/><ellipse cx="291.4" cy="511.7" rx="3.0" ry="5.3"/><ellipse cx="293.0" cy="511.7" rx="3.0" ry="5.3"/><ellipse cx="295.5" cy="511.7" rx="3.0" ry="5.3"/><ellipse cx="297.5" cy="511.7" rx="3.0" ry="5.3"/><ellipse cx="306.7" cy="511.7" rx="3.0" ry="5.3"/><ellipse cx="325.9" cy="511.7" rx="3.0" ry="5.3"/><ellipse cx="334.7" cy="511.7" rx="3.0" ry="5.3"/><ellipse cx="338.2" cy="511.7" rx="3.0" ry="5.3"/><ellipse cx="345.2" cy="511.7" rx="3.0" ry="5.3"/></g>
<ellipse cx="157.2" cy="511.9" rx="2.9" ry="5.3" fill="#000"/>
<g stroke="#1d4274" stroke-width="1.35" fill="none"><path d="M89.3 523.0H176.9M250.1 523.0H357.4" /><path d="M95.1 520.0H89.3V526.0H95.1M351.6 520.0H357.4V526.0H351.6" fill="none"/><rect x="176.9" y="520.0" width="73.2" height="6.0" rx="1.5" fill="#fff"/></g>
<g stroke="#164580" stroke-width="1.6" fill="none"><ellipse cx="362.7" cy="523.0" rx="3.0" ry="5.3"/><ellipse cx="365.3" cy="523.0" rx="3.0" ry="5.3"/><ellipse cx="368.8" cy="523.0" rx="3.0" ry="5.3"/><ellipse cx="372.3" cy="523.0" rx="3.0" ry="5.3"/><ellipse cx="377.6" cy="523.0" rx="3.0" ry="5.3"/><ellipse cx="395.1" cy="523.0" rx="3.0" ry="5.3"/><ellipse cx="403.0" cy="523.0" rx="3.0" ry="5.3"/><ellipse cx="415.4" cy="523.0" rx="3.0" ry="5.3"/></g>
<ellipse cx="211.9" cy="523.2" rx="2.9" ry="5.3" fill="#000"/>
<g stroke="#1d4274" stroke-width="1.35" fill="none"><path d="M89.3 536.9H135.7M193.7 536.9H279.3" /><path d="M95.1 533.9H89.3V539.9H95.1M273.5 533.9H279.3V539.9H273.5" fill="none"/><rect x="135.7" y="533.9" width="58.0" height="6.0" rx="1.5" fill="#fff"/></g>
<g stroke="#164580" stroke-width="1.6" fill="none"><ellipse cx="283.0" cy="536.9" rx="3.0" ry="5.3"/><ellipse cx="285.2" cy="536.9" rx="3.0" ry="5.3"/><ellipse cx="287.3" cy="536.9" rx="3.0" ry="5.3"/><ellipse cx="289.5" cy="536.9" rx="3.0" ry="5.3"/><ellipse cx="291.6" cy="536.9" rx="3.0" ry="5.3"/><ellipse cx="293.8" cy="536.9" rx="3.0" ry="5.3"/><ellipse cx="296.0" cy="536.9" rx="3.0" ry="5.3"/><ellipse cx="298.1" cy="536.9" rx="3.0" ry="5.3"/><ellipse cx="300.3" cy="536.9" rx="3.0" ry="5.3"/><ellipse cx="318.0" cy="536.9" rx="3.0" ry="5.3"/><ellipse cx="322.4" cy="536.9" rx="3.0" ry="5.3"/><ellipse cx="345.6" cy="536.9" rx="3.0" ry="5.3"/></g>
<ellipse cx="163.4" cy="537.1" rx="2.9" ry="5.3" fill="#000"/>
<g stroke="#1d4274" stroke-width="1.35" fill="none"><path d="M89.3 548.3H157.2M226.4 548.3H328.2" /><path d="M95.1 545.3H89.3V551.3H95.1M322.4 545.3H328.2V551.3H322.4" fill="none"/><rect x="157.2" y="545.3" width="69.2" height="6.0" rx="1.5" fill="#fff"/></g>
<g stroke="#164580" stroke-width="1.6" fill="none"><ellipse cx="331.7" cy="548.3" rx="3.0" ry="5.3"/><ellipse cx="334.7" cy="548.3" rx="3.0" ry="5.3"/><ellipse cx="339.9" cy="548.3" rx="3.0" ry="5.3"/><ellipse cx="342.6" cy="548.3" rx="3.0" ry="5.3"/><ellipse cx="345.5" cy="548.3" rx="3.0" ry="5.3"/><ellipse cx="347.5" cy="548.3" rx="3.0" ry="5.3"/><ellipse cx="349.5" cy="548.3" rx="3.0" ry="5.3"/><ellipse cx="351.5" cy="548.3" rx="3.0" ry="5.3"/><ellipse cx="353.5" cy="548.3" rx="3.0" ry="5.3"/><ellipse cx="359.2" cy="548.3" rx="3.0" ry="5.3"/><ellipse cx="362.7" cy="548.3" rx="3.0" ry="5.3"/></g>
<ellipse cx="191.4" cy="548.5" rx="2.9" ry="5.3" fill="#000"/>
<g stroke="#1d4274" stroke-width="1.35" fill="none"><path d="M89.3 559.6H160.2M228.7 559.6H329.4" /><path d="M95.1 556.6H89.3V562.6H95.1M323.6 556.6H329.4V562.6H323.6" fill="none"/><rect x="160.2" y="556.6" width="68.5" height="6.0" rx="1.5" fill="#fff"/></g>
<g stroke="#164580" stroke-width="1.6" fill="none"><ellipse cx="340.8" cy="559.6" rx="3.0" ry="5.3"/><ellipse cx="344.3" cy="559.6" rx="3.0" ry="5.3"/><ellipse cx="347.8" cy="559.6" rx="3.0" ry="5.3"/><ellipse cx="355.7" cy="559.6" rx="3.0" ry="5.3"/><ellipse cx="358.3" cy="559.6" rx="3.0" ry="5.3"/><ellipse cx="364.5" cy="559.6" rx="3.0" ry="5.3"/><ellipse cx="412.6" cy="559.6" rx="3.0" ry="5.3"/></g>
<ellipse cx="194.4" cy="559.8" rx="2.9" ry="5.3" fill="#000"/>
<g stroke="#1d4274" stroke-width="1.35" fill="none"><path d="M89.3 570.9H157.6M223.8 570.9H322.0" /><path d="M95.1 567.9H89.3V573.9H95.1M316.2 567.9H322.0V573.9H316.2" fill="none"/><rect x="157.6" y="567.9" width="66.2" height="6.0" rx="1.5" fill="#fff"/></g>
<g stroke="#164580" stroke-width="1.6" fill="none"><ellipse cx="324.2" cy="570.9" rx="3.0" ry="5.3"/><ellipse cx="330.3" cy="570.9" rx="3.0" ry="5.3"/><ellipse cx="333.8" cy="570.9" rx="3.0" ry="5.3"/><ellipse cx="337.3" cy="570.9" rx="3.0" ry="5.3"/><ellipse cx="340.8" cy="570.9" rx="3.0" ry="5.3"/><ellipse cx="345.2" cy="570.9" rx="3.0" ry="5.3"/><ellipse cx="353.9" cy="570.9" rx="3.0" ry="5.3"/><ellipse cx="360.1" cy="570.9" rx="3.0" ry="5.3"/><ellipse cx="362.7" cy="570.9" rx="3.0" ry="5.3"/><ellipse cx="377.5" cy="570.9" rx="3.0" ry="5.3"/><ellipse cx="381.0" cy="570.9" rx="3.0" ry="5.3"/></g>
<ellipse cx="189.6" cy="571.1" rx="2.9" ry="5.3" fill="#000"/>
<g stroke="#1d4274" stroke-width="1.35" fill="none"><path d="M89.3 582.2H105.9M157.2 582.2H229.1" /><path d="M95.1 579.2H89.3V585.2H95.1M223.3 579.2H229.1V585.2H223.3" fill="none"/><rect x="105.9" y="579.2" width="51.3" height="6.0" rx="1.5" fill="#fff"/></g>
<g stroke="#164580" stroke-width="1.6" fill="none"><ellipse cx="234.3" cy="582.2" rx="3.0" ry="5.3"/><ellipse cx="237.5" cy="582.2" rx="3.0" ry="5.3"/><ellipse cx="240.6" cy="582.2" rx="3.0" ry="5.3"/><ellipse cx="243.8" cy="582.2" rx="3.0" ry="5.3"/><ellipse cx="246.9" cy="582.2" rx="3.0" ry="5.3"/><ellipse cx="250.1" cy="582.2" rx="3.0" ry="5.3"/><ellipse cx="257.1" cy="582.2" rx="3.0" ry="5.3"/><ellipse cx="259.7" cy="582.2" rx="3.0" ry="5.3"/></g>
<ellipse cx="129.6" cy="582.4" rx="2.9" ry="5.3" fill="#000"/>
<g stroke="#1d4274" stroke-width="1.35" fill="none"><path d="M89.3 593.5H135.7M210.1 593.5H321.5" /><path d="M95.1 590.5H89.3V596.5H95.1M315.7 590.5H321.5V596.5H315.7" fill="none"/><rect x="135.7" y="590.5" width="74.4" height="6.0" rx="1.5" fill="#fff"/></g>
<g stroke="#164580" stroke-width="1.6" fill="none"><ellipse cx="324.2" cy="593.5" rx="3.0" ry="5.3"/><ellipse cx="334.7" cy="593.5" rx="3.0" ry="5.3"/><ellipse cx="340.8" cy="593.5" rx="3.0" ry="5.3"/></g>
<ellipse cx="169.9" cy="593.8" rx="2.9" ry="5.3" fill="#000"/>
<g stroke="#1d4274" stroke-width="1.35" fill="none"><path d="M89.3 607.5H102.4M149.7 607.5H218.5" /><path d="M95.1 604.5H89.3V610.5H95.1M212.7 604.5H218.5V610.5H212.7" fill="none"/><rect x="102.4" y="604.5" width="47.3" height="6.0" rx="1.5" fill="#fff"/></g>
<g stroke="#164580" stroke-width="1.6" fill="none"><ellipse cx="224.7" cy="607.5" rx="3.0" ry="5.3"/><ellipse cx="227.2" cy="607.5" rx="3.0" ry="5.3"/><ellipse cx="229.7" cy="607.5" rx="3.0" ry="5.3"/><ellipse cx="232.2" cy="607.5" rx="3.0" ry="5.3"/><ellipse cx="234.7" cy="607.5" rx="3.0" ry="5.3"/><ellipse cx="237.2" cy="607.5" rx="3.0" ry="5.3"/><ellipse cx="239.7" cy="607.5" rx="3.0" ry="5.3"/><ellipse cx="242.2" cy="607.5" rx="3.0" ry="5.3"/><ellipse cx="249.2" cy="607.5" rx="3.0" ry="5.3"/><ellipse cx="286.1" cy="607.5" rx="3.0" ry="5.3"/></g>
<ellipse cx="125.7" cy="607.7" rx="2.9" ry="5.3" fill="#000"/>
<g stroke="#1d4274" stroke-width="1.35" fill="none"><path d="M89.3 618.8H122.6M176.0 618.8H254.5" /><path d="M95.1 615.8H89.3V621.8H95.1M248.7 615.8H254.5V621.8H248.7" fill="none"/><rect x="122.6" y="615.8" width="53.4" height="6.0" rx="1.5" fill="#fff"/></g>
<g stroke="#164580" stroke-width="1.6" fill="none"><ellipse cx="258.0" cy="618.8" rx="3.0" ry="5.3"/><ellipse cx="260.6" cy="618.8" rx="3.0" ry="5.3"/><ellipse cx="262.6" cy="618.8" rx="3.0" ry="5.3"/><ellipse cx="264.5" cy="618.8" rx="3.0" ry="5.3"/><ellipse cx="273.0" cy="618.8" rx="3.0" ry="5.3"/><ellipse cx="274.3" cy="618.8" rx="3.0" ry="5.3"/><ellipse cx="288.0" cy="618.8" rx="3.0" ry="5.3"/><ellipse cx="292.5" cy="618.8" rx="3.0" ry="5.3"/><ellipse cx="296.0" cy="618.8" rx="3.0" ry="5.3"/><ellipse cx="299.5" cy="618.8" rx="3.0" ry="5.3"/><ellipse cx="331.0" cy="618.8" rx="3.0" ry="5.3"/></g>
<ellipse cx="143.9" cy="619.0" rx="2.9" ry="5.3" fill="#000"/>
<g stroke="#1d4274" stroke-width="1.35" fill="none"><path d="M89.3 630.1H118.7M175.5 630.1H259.3" /><path d="M95.1 627.1H89.3V633.1H95.1M253.5 627.1H259.3V633.1H253.5" fill="none"/><rect x="118.7" y="627.1" width="56.8" height="6.0" rx="1.5" fill="#fff"/></g>
<g stroke="#164580" stroke-width="1.6" fill="none"><ellipse cx="262.3" cy="630.1" rx="3.0" ry="5.3"/><ellipse cx="265.0" cy="630.1" rx="3.0" ry="5.3"/><ellipse cx="271.5" cy="630.1" rx="3.0" ry="5.3"/><ellipse cx="273.0" cy="630.1" rx="3.0" ry="5.3"/><ellipse cx="274.5" cy="630.1" rx="3.0" ry="5.3"/><ellipse cx="282.0" cy="630.1" rx="3.0" ry="5.3"/><ellipse cx="286.3" cy="630.1" rx="3.0" ry="5.3"/><ellipse cx="290.7" cy="630.1" rx="3.0" ry="5.3"/><ellipse cx="311.7" cy="630.1" rx="3.0" ry="5.3"/><ellipse cx="339.7" cy="630.1" rx="3.0" ry="5.3"/></g>
<ellipse cx="145.0" cy="630.3" rx="2.9" ry="5.3" fill="#000"/>
<g stroke="#1d4274" stroke-width="1.35" fill="none"><path d="M89.3 641.5H116.4M169.5 641.5H246.8" /><path d="M95.1 638.5H89.3V644.5H95.1M241.0 638.5H246.8V644.5H241.0" fill="none"/><rect x="116.4" y="638.5" width="53.1" height="6.0" rx="1.5" fill="#fff"/></g>
<g stroke="#164580" stroke-width="1.6" fill="none"><ellipse cx="250.5" cy="641.5" rx="3.0" ry="5.3"/><ellipse cx="252.4" cy="641.5" rx="3.0" ry="5.3"/><ellipse cx="254.2" cy="641.5" rx="3.0" ry="5.3"/><ellipse cx="256.1" cy="641.5" rx="3.0" ry="5.3"/><ellipse cx="258.0" cy="641.5" rx="3.0" ry="5.3"/><ellipse cx="259.9" cy="641.5" rx="3.0" ry="5.3"/><ellipse cx="261.8" cy="641.5" rx="3.0" ry="5.3"/><ellipse cx="263.6" cy="641.5" rx="3.0" ry="5.3"/><ellipse cx="265.5" cy="641.5" rx="3.0" ry="5.3"/><ellipse cx="276.2" cy="641.5" rx="3.0" ry="5.3"/><ellipse cx="331.7" cy="641.5" rx="3.0" ry="5.3"/></g>
<ellipse cx="138.0" cy="641.7" rx="2.9" ry="5.3" fill="#000"/>
<g stroke="#1d4274" stroke-width="1.35" fill="none"><path d="M89.3 652.8H89.3M131.3 652.8H190.5" /><path d="M184.7 649.8H190.5V655.8H184.7" fill="none"/><rect x="89.3" y="649.8" width="42.0" height="6.0" rx="1.5" fill="#fff"/></g>
<g stroke="#164580" stroke-width="1.6" fill="none"><ellipse cx="196.6" cy="652.8" rx="3.0" ry="5.3"/><ellipse cx="200.1" cy="652.8" rx="3.0" ry="5.3"/><ellipse cx="203.7" cy="652.8" rx="3.0" ry="5.3"/><ellipse cx="207.2" cy="652.8" rx="3.0" ry="5.3"/><ellipse cx="210.7" cy="652.8" rx="3.0" ry="5.3"/><ellipse cx="214.2" cy="652.8" rx="3.0" ry="5.3"/><ellipse cx="217.7" cy="652.8" rx="3.0" ry="5.3"/><ellipse cx="243.1" cy="652.8" rx="3.0" ry="5.3"/><ellipse cx="280.8" cy="652.8" rx="3.0" ry="5.3"/></g>
<ellipse cx="108.5" cy="653.0" rx="2.9" ry="5.3" fill="#000"/>
<g stroke="#1d4274" stroke-width="1.35" fill="none"><path d="M89.3 664.1H115.9M169.0 664.1H245.8" /><path d="M95.1 661.1H89.3V667.1H95.1M240.0 661.1H245.8V667.1H240.0" fill="none"/><rect x="115.9" y="661.1" width="53.1" height="6.0" rx="1.5" fill="#fff"/></g>
<g stroke="#164580" stroke-width="1.6" fill="none"><ellipse cx="251.5" cy="664.1" rx="3.0" ry="5.3"/><ellipse cx="253.4" cy="664.1" rx="3.0" ry="5.3"/><ellipse cx="255.3" cy="664.1" rx="3.0" ry="5.3"/><ellipse cx="257.2" cy="664.1" rx="3.0" ry="5.3"/><ellipse cx="259.2" cy="664.1" rx="3.0" ry="5.3"/><ellipse cx="261.1" cy="664.1" rx="3.0" ry="5.3"/><ellipse cx="263.0" cy="664.1" rx="3.0" ry="5.3"/><ellipse cx="267.6" cy="664.1" rx="3.0" ry="5.3"/><ellipse cx="271.5" cy="664.1" rx="3.0" ry="5.3"/><ellipse cx="274.5" cy="664.1" rx="3.0" ry="5.3"/><ellipse cx="288.0" cy="664.1" rx="3.0" ry="5.3"/></g>
<ellipse cx="136.6" cy="664.3" rx="2.9" ry="5.3" fill="#000"/>
<g stroke="#1d4274" stroke-width="1.35" fill="none"><path d="M89.3 678.0H89.3M126.4 678.0H181.3" /><path d="M175.5 675.0H181.3V681.0H175.5" fill="none"/><rect x="89.3" y="675.0" width="37.1" height="6.0" rx="1.5" fill="#fff"/></g>
<g stroke="#164580" stroke-width="1.6" fill="none"><ellipse cx="184.0" cy="678.0" rx="3.0" ry="5.3"/><ellipse cx="185.3" cy="678.0" rx="3.0" ry="5.3"/><ellipse cx="186.6" cy="678.0" rx="3.0" ry="5.3"/><ellipse cx="187.9" cy="678.0" rx="3.0" ry="5.3"/><ellipse cx="189.2" cy="678.0" rx="3.0" ry="5.3"/><ellipse cx="190.5" cy="678.0" rx="3.0" ry="5.3"/><ellipse cx="191.8" cy="678.0" rx="3.0" ry="5.3"/><ellipse cx="193.1" cy="678.0" rx="3.0" ry="5.3"/><ellipse cx="194.4" cy="678.0" rx="3.0" ry="5.3"/><ellipse cx="195.7" cy="678.0" rx="3.0" ry="5.3"/><ellipse cx="197.0" cy="678.0" rx="3.0" ry="5.3"/><ellipse cx="203.3" cy="678.0" rx="3.0" ry="5.3"/><ellipse cx="206.8" cy="678.0" rx="3.0" ry="5.3"/><ellipse cx="220.8" cy="678.0" rx="3.0" ry="5.3"/></g>
<ellipse cx="102.9" cy="678.2" rx="2.9" ry="5.3" fill="#000"/>
<g stroke="#1d4274" stroke-width="1.35" fill="none"><path d="M89.3 689.4H89.3M134.5 689.4H200.2" /><path d="M194.4 686.4H200.2V692.4H194.4" fill="none"/><rect x="89.3" y="686.4" width="45.2" height="6.0" rx="1.5" fill="#fff"/></g>
<g stroke="#164580" stroke-width="1.6" fill="none"><ellipse cx="202.4" cy="689.4" rx="3.0" ry="5.3"/><ellipse cx="205.0" cy="689.4" rx="3.0" ry="5.3"/><ellipse cx="209.0" cy="689.4" rx="3.0" ry="5.3"/><ellipse cx="211.0" cy="689.4" rx="3.0" ry="5.3"/><ellipse cx="213.1" cy="689.4" rx="3.0" ry="5.3"/><ellipse cx="215.1" cy="689.4" rx="3.0" ry="5.3"/><ellipse cx="217.1" cy="689.4" rx="3.0" ry="5.3"/><ellipse cx="219.1" cy="689.4" rx="3.0" ry="5.3"/><ellipse cx="221.1" cy="689.4" rx="3.0" ry="5.3"/><ellipse cx="223.2" cy="689.4" rx="3.0" ry="5.3"/><ellipse cx="225.2" cy="689.4" rx="3.0" ry="5.3"/><ellipse cx="249.7" cy="689.4" rx="3.0" ry="5.3"/><ellipse cx="251.5" cy="689.4" rx="3.0" ry="5.3"/><ellipse cx="257.6" cy="689.4" rx="3.0" ry="5.3"/></g>
<ellipse cx="115.9" cy="689.6" rx="2.9" ry="5.3" fill="#000"/>
<g stroke="#1d4274" stroke-width="1.35" fill="none"><path d="M89.3 700.7H89.3M136.2 700.7H204.0" /><path d="M198.2 697.7H204.0V703.7H198.2" fill="none"/><rect x="89.3" y="697.7" width="46.9" height="6.0" rx="1.5" fill="#fff"/></g>
<g stroke="#164580" stroke-width="1.6" fill="none"><ellipse cx="206.8" cy="700.7" rx="3.0" ry="5.3"/><ellipse cx="208.7" cy="700.7" rx="3.0" ry="5.3"/><ellipse cx="210.7" cy="700.7" rx="3.0" ry="5.3"/><ellipse cx="212.6" cy="700.7" rx="3.0" ry="5.3"/><ellipse cx="214.6" cy="700.7" rx="3.0" ry="5.3"/><ellipse cx="216.5" cy="700.7" rx="3.0" ry="5.3"/><ellipse cx="218.5" cy="700.7" rx="3.0" ry="5.3"/><ellipse cx="220.4" cy="700.7" rx="3.0" ry="5.3"/><ellipse cx="222.4" cy="700.7" rx="3.0" ry="5.3"/><ellipse cx="224.3" cy="700.7" rx="3.0" ry="5.3"/><ellipse cx="234.0" cy="700.7" rx="3.0" ry="5.3"/><ellipse cx="235.7" cy="700.7" rx="3.0" ry="5.3"/></g>
<ellipse cx="116.4" cy="700.9" rx="2.9" ry="5.3" fill="#000"/>
<g stroke="#1d4274" stroke-width="1.35" fill="none"><path d="M89.3 712.0H89.3M134.5 712.0H198.0" /><path d="M192.2 709.0H198.0V715.0H192.2" fill="none"/><rect x="89.3" y="709.0" width="45.2" height="6.0" rx="1.5" fill="#fff"/></g>
<g stroke="#164580" stroke-width="1.6" fill="none"><ellipse cx="201.5" cy="712.0" rx="3.0" ry="5.3"/><ellipse cx="203.6" cy="712.0" rx="3.0" ry="5.3"/><ellipse cx="205.7" cy="712.0" rx="3.0" ry="5.3"/><ellipse cx="207.8" cy="712.0" rx="3.0" ry="5.3"/><ellipse cx="209.9" cy="712.0" rx="3.0" ry="5.3"/><ellipse cx="212.0" cy="712.0" rx="3.0" ry="5.3"/><ellipse cx="215.5" cy="712.0" rx="3.0" ry="5.3"/><ellipse cx="219.9" cy="712.0" rx="3.0" ry="5.3"/><ellipse cx="241.8" cy="712.0" rx="3.0" ry="5.3"/><ellipse cx="252.0" cy="712.0" rx="3.0" ry="5.3"/><ellipse cx="262.0" cy="712.0" rx="3.0" ry="5.3"/></g>
<ellipse cx="114.1" cy="712.2" rx="2.9" ry="5.3" fill="#000"/>
<g stroke="#1d4274" stroke-width="1.35" fill="none"><path d="M89.3 723.3H89.3M118.7 723.3H163.2" /><path d="M157.4 720.3H163.2V726.3H157.4" fill="none"/><rect x="89.3" y="720.3" width="29.4" height="6.0" rx="1.5" fill="#fff"/></g>
<g stroke="#164580" stroke-width="1.6" fill="none"><ellipse cx="165.0" cy="723.3" rx="3.0" ry="5.3"/><ellipse cx="166.7" cy="723.3" rx="3.0" ry="5.3"/><ellipse cx="168.4" cy="723.3" rx="3.0" ry="5.3"/><ellipse cx="170.1" cy="723.3" rx="3.0" ry="5.3"/><ellipse cx="171.8" cy="723.3" rx="3.0" ry="5.3"/><ellipse cx="173.5" cy="723.3" rx="3.0" ry="5.3"/><ellipse cx="176.5" cy="723.3" rx="3.0" ry="5.3"/><ellipse cx="179.5" cy="723.3" rx="3.0" ry="5.3"/><ellipse cx="182.3" cy="723.3" rx="3.0" ry="5.3"/><ellipse cx="193.2" cy="723.3" rx="3.0" ry="5.3"/><ellipse cx="248.0" cy="723.3" rx="3.0" ry="5.3"/></g>
<ellipse cx="93.1" cy="723.5" rx="2.9" ry="5.3" fill="#000"/>
<g stroke="#1d4274" stroke-width="1.35" fill="none"><path d="M89.3 734.6H89.3M136.2 734.6H202.5" /><path d="M196.7 731.6H202.5V737.6H196.7" fill="none"/><rect x="89.3" y="731.6" width="46.9" height="6.0" rx="1.5" fill="#fff"/></g>
<g stroke="#164580" stroke-width="1.6" fill="none"><ellipse cx="207.7" cy="734.6" rx="3.0" ry="5.3"/><ellipse cx="210.0" cy="734.6" rx="3.0" ry="5.3"/><ellipse cx="212.4" cy="734.6" rx="3.0" ry="5.3"/><ellipse cx="214.7" cy="734.6" rx="3.0" ry="5.3"/><ellipse cx="219.0" cy="734.6" rx="3.0" ry="5.3"/><ellipse cx="221.4" cy="734.6" rx="3.0" ry="5.3"/><ellipse cx="223.8" cy="734.6" rx="3.0" ry="5.3"/><ellipse cx="226.3" cy="734.6" rx="3.0" ry="5.3"/><ellipse cx="228.7" cy="734.6" rx="3.0" ry="5.3"/><ellipse cx="248.0" cy="734.6" rx="3.0" ry="5.3"/></g>
<ellipse cx="114.1" cy="734.9" rx="2.9" ry="5.3" fill="#000"/>
<rect x="70" y="34.25" width="524.5" height="3.4" fill="#a09070"/>
<rect x="542.0" y="34.25" width="52.5" height="3.4" fill="#8a4a18"/>
<rect x="70" y="34.25" width="524.5" height="1.2" fill="#1a0e05"/>
<rect x="70" y="36.45" width="524.5" height="1.2" fill="#140a02"/>
<rect x="70" y="104.80" width="524.5" height="3.4" fill="#a09070"/>
<rect x="489.6" y="104.80" width="52.4" height="3.4" fill="#8a4a18"/>
<rect x="70" y="104.80" width="524.5" height="1.2" fill="#1a0e05"/>
<rect x="70" y="107.00" width="524.5" height="1.2" fill="#140a02"/>
<rect x="70" y="175.35" width="524.5" height="3.4" fill="#a09070"/>
<rect x="437.1" y="175.35" width="52.5" height="3.4" fill="#8a4a18"/>
<rect x="70" y="175.35" width="524.5" height="1.2" fill="#1a0e05"/>
<rect x="70" y="177.55" width="524.5" height="1.2" fill="#140a02"/>
<rect x="70" y="245.90" width="524.5" height="3.4" fill="#a09070"/>
<rect x="384.7" y="245.90" width="52.4" height="3.4" fill="#8a4a18"/>
<rect x="70" y="245.90" width="524.5" height="1.2" fill="#1a0e05"/>
<rect x="70" y="248.10" width="524.5" height="1.2" fill="#140a02"/>
<rect x="70" y="316.45" width="524.5" height="3.4" fill="#a09070"/>
<rect x="332.2" y="316.45" width="52.4" height="3.4" fill="#8a4a18"/>
<rect x="70" y="316.45" width="524.5" height="1.2" fill="#1a0e05"/>
<rect x="70" y="318.65" width="524.5" height="1.2" fill="#140a02"/>
<rect x="70" y="387.00" width="524.5" height="3.4" fill="#a09070"/>
<rect x="279.8" y="387.00" width="52.4" height="3.4" fill="#8a4a18"/>
<rect x="70" y="387.00" width="524.5" height="1.2" fill="#1a0e05"/>
<rect x="70" y="389.20" width="524.5" height="1.2" fill="#140a02"/>
<rect x="70" y="457.55" width="524.5" height="3.4" fill="#a09070"/>
<rect x="227.3" y="457.55" width="52.5" height="3.4" fill="#8a4a18"/>
<rect x="70" y="457.55" width="524.5" height="1.2" fill="#1a0e05"/>
<rect x="70" y="459.75" width="524.5" height="1.2" fill="#140a02"/>
<rect x="70" y="528.10" width="524.5" height="3.4" fill="#a09070"/>
<rect x="174.9" y="528.10" width="52.4" height="3.4" fill="#8a4a18"/>
<rect x="70" y="528.10" width="524.5" height="1.2" fill="#1a0e05"/>
<rect x="70" y="530.30" width="524.5" height="1.2" fill="#140a02"/>
<rect x="70" y="598.65" width="524.5" height="3.4" fill="#a09070"/>
<rect x="122.5" y="598.65" width="52.5" height="3.4" fill="#8a4a18"/>
<rect x="70" y="598.65" width="524.5" height="1.2" fill="#1a0e05"/>
<rect x="70" y="600.85" width="524.5" height="1.2" fill="#140a02"/>
<rect x="70" y="669.20" width="524.5" height="3.4" fill="#a09070"/>
<rect x="70.0" y="669.20" width="52.5" height="3.4" fill="#8a4a18"/>
<rect x="70" y="669.20" width="524.5" height="1.2" fill="#1a0e05"/>
<rect x="70" y="671.40" width="524.5" height="1.2" fill="#140a02"/>
<path d="M70 34.0V740.0H594.5V34.0" stroke="#000" stroke-width="1.5" fill="none"/>
<path d="M89.0 29.5V34.0M89.0 740.0V744.6M186.3 29.5V34.0M186.3 740.0V744.6M283.5 29.5V34.0M283.5 740.0V744.6M380.8 29.5V34.0M380.8 740.0V744.6M478.0 29.5V34.0M478.0 740.0V744.6M575.3 29.5V34.0M575.3 740.0V744.6" stroke="#000" stroke-width="1.2"/>
<text x="92.4" y="763.8" font-size="14.4" text-anchor="middle">0.0</text>
<text x="189.7" y="763.8" font-size="14.4" text-anchor="middle">0.2</text>
<text x="286.9" y="763.8" font-size="14.4" text-anchor="middle">0.4</text>
<text x="384.2" y="763.8" font-size="14.4" text-anchor="middle">0.6</text>
<text x="481.4" y="763.8" font-size="14.4" text-anchor="middle">0.8</text>
<text x="578.7" y="763.8" font-size="14.4" text-anchor="middle">1.0</text>
<text x="336.2" y="794.5" font-size="20.3" text-anchor="middle">pAUC Inverse Gamma</text>
<text x="60.3" y="48.7" font-size="10" text-anchor="end" fill="#222">FC</text>
<text x="63.2" y="59.2" font-size="10" text-anchor="end" fill="#222">limma</text>
<text x="63.2" y="68.7" font-size="10" text-anchor="end" fill="#222">BRB</text>
<text x="63.2" y="79.8" font-size="10" text-anchor="end" fill="#222">CyberT</text>
<text x="63.2" y="91.6" font-size="10" text-anchor="end" fill="#222">LPE</text>
<text x="63.2" y="102.1" font-size="10" text-anchor="end" fill="#222">t-stat</text>
<text x="608.8" y="75.4" font-size="19.5">1.1</text>
<text x="60.3" y="119.5" font-size="10" text-anchor="end" fill="#222">FC</text>
<text x="63.2" y="130.0" font-size="10" text-anchor="end" fill="#222">limma</text>
<text x="63.2" y="139.5" font-size="10" text-anchor="end" fill="#222">BRB</text>
<text x="63.2" y="150.6" font-size="10" text-anchor="end" fill="#222">CyberT</text>
<text x="63.2" y="162.4" font-size="10" text-anchor="end" fill="#222">LPE</text>
<text x="63.2" y="172.9" font-size="10" text-anchor="end" fill="#222">t-stat</text>
<text x="608.8" y="147.3" font-size="19.5">1.0</text>
<text x="60.3" y="190.5" font-size="10" text-anchor="end" fill="#222">FC</text>
<text x="63.2" y="201.0" font-size="10" text-anchor="end" fill="#222">limma</text>
<text x="63.2" y="210.5" font-size="10" text-anchor="end" fill="#222">BRB</text>
<text x="63.2" y="221.6" font-size="10" text-anchor="end" fill="#222">CyberT</text>
<text x="63.2" y="233.4" font-size="10" text-anchor="end" fill="#222">LPE</text>
<text x="63.2" y="243.9" font-size="10" text-anchor="end" fill="#222">t-stat</text>
<text x="608.8" y="217.5" font-size="19.5">0.9</text>
<text x="60.3" y="260.0" font-size="10" text-anchor="end" fill="#222">FC</text>
<text x="63.2" y="270.5" font-size="10" text-anchor="end" fill="#222">limma</text>
<text x="63.2" y="280.0" font-size="10" text-anchor="end" fill="#222">BRB</text>
<text x="63.2" y="291.1" font-size="10" text-anchor="end" fill="#222">CyberT</text>
<text x="63.2" y="302.9" font-size="10" text-anchor="end" fill="#222">LPE</text>
<text x="63.2" y="313.4" font-size="10" text-anchor="end" fill="#222">t-stat</text>
<text x="608.8" y="289.3" font-size="19.5">0.8</text>
<text x="60.3" y="330.0" font-size="10" text-anchor="end" fill="#222">FC</text>
<text x="63.2" y="340.5" font-size="10" text-anchor="end" fill="#222">limma</text>
<text x="63.2" y="350.0" font-size="10" text-anchor="end" fill="#222">BRB</text>
<text x="63.2" y="361.1" font-size="10" text-anchor="end" fill="#222">CyberT</text>
<text x="63.2" y="372.9" font-size="10" text-anchor="end" fill="#222">LPE</text>
<text x="63.2" y="383.4" font-size="10" text-anchor="end" fill="#222">t-stat</text>
<text x="608.8" y="354.5" font-size="19.5">0.7</text>
<text x="60.3" y="398.9" font-size="10" text-anchor="end" fill="#222">FC</text>
<text x="63.2" y="409.4" font-size="10" text-anchor="end" fill="#222">limma</text>
<text x="63.2" y="418.9" font-size="10" text-anchor="end" fill="#222">BRB</text>
<text x="63.2" y="430.0" font-size="10" text-anchor="end" fill="#222">CyberT</text>
<text x="63.2" y="441.8" font-size="10" text-anchor="end" fill="#222">LPE</text>
<text x="63.2" y="452.3" font-size="10" text-anchor="end" fill="#222">t-stat</text>
<text x="608.8" y="428.7" font-size="19.5">0.6</text>
<text x="60.3" y="473.7" font-size="10" text-anchor="end" fill="#222">FC</text>
<text x="63.2" y="484.2" font-size="10" text-anchor="end" fill="#222">limma</text>
<text x="63.2" y="493.7" font-size="10" text-anchor="end" fill="#222">BRB</text>
<text x="63.2" y="504.8" font-size="10" text-anchor="end" fill="#222">CyberT</text>
<text x="63.2" y="516.6" font-size="10" text-anchor="end" fill="#222">LPE</text>
<text x="63.2" y="527.1" font-size="10" text-anchor="end" fill="#222">t-stat</text>
<text x="608.8" y="501.6" font-size="19.5">0.5</text>
<text x="60.3" y="543.7" font-size="10" text-anchor="end" fill="#222">FC</text>
<text x="63.2" y="554.2" font-size="10" text-anchor="end" fill="#222">limma</text>
<text x="63.2" y="563.7" font-size="10" text-anchor="end" fill="#222">BRB</text>
<text x="63.2" y="574.8" font-size="10" text-anchor="end" fill="#222">CyberT</text>
<text x="63.2" y="586.6" font-size="10" text-anchor="end" fill="#222">LPE</text>
<text x="63.2" y="597.1" font-size="10" text-anchor="end" fill="#222">t-stat</text>
<text x="608.8" y="568.8" font-size="19.5">0.4</text>
<text x="60.3" y="612.7" font-size="10" text-anchor="end" fill="#222">FC</text>
<text x="63.2" y="623.2" font-size="10" text-anchor="end" fill="#222">limma</text>
<text x="63.2" y="632.7" font-size="10" text-anchor="end" fill="#222">BRB</text>
<text x="63.2" y="643.8" font-size="10" text-anchor="end" fill="#222">CyberT</text>
<text x="63.2" y="655.6" font-size="10" text-anchor="end" fill="#222">LPE</text>
<text x="63.2" y="666.1" font-size="10" text-anchor="end" fill="#222">t-stat</text>
<text x="608.8" y="640.0" font-size="19.5">0.3</text>
<text x="60.3" y="685.3" font-size="10" text-anchor="end" fill="#222">FC</text>
<text x="63.2" y="695.8" font-size="10" text-anchor="end" fill="#222">limma</text>
<text x="63.2" y="705.3" font-size="10" text-anchor="end" fill="#222">BRB</text>
<text x="63.2" y="716.4" font-size="10" text-anchor="end" fill="#222">CyberT</text>
<text x="63.2" y="728.2" font-size="10" text-anchor="end" fill="#222">LPE</text>
<text x="63.2" y="738.7" font-size="10" text-anchor="end" fill="#222">t-stat</text>
<text x="608.8" y="714.2" font-size="19.5">0.2</text>
<text transform="translate(658.6 307.3) rotate(90)" font-size="20.2">Log<tspan font-size="14.5" dx="2.6" dy="8.4">2</tspan><tspan dy="-8.4" dx="2"> Fold Change</tspan></text>
</svg>
</body></html>
